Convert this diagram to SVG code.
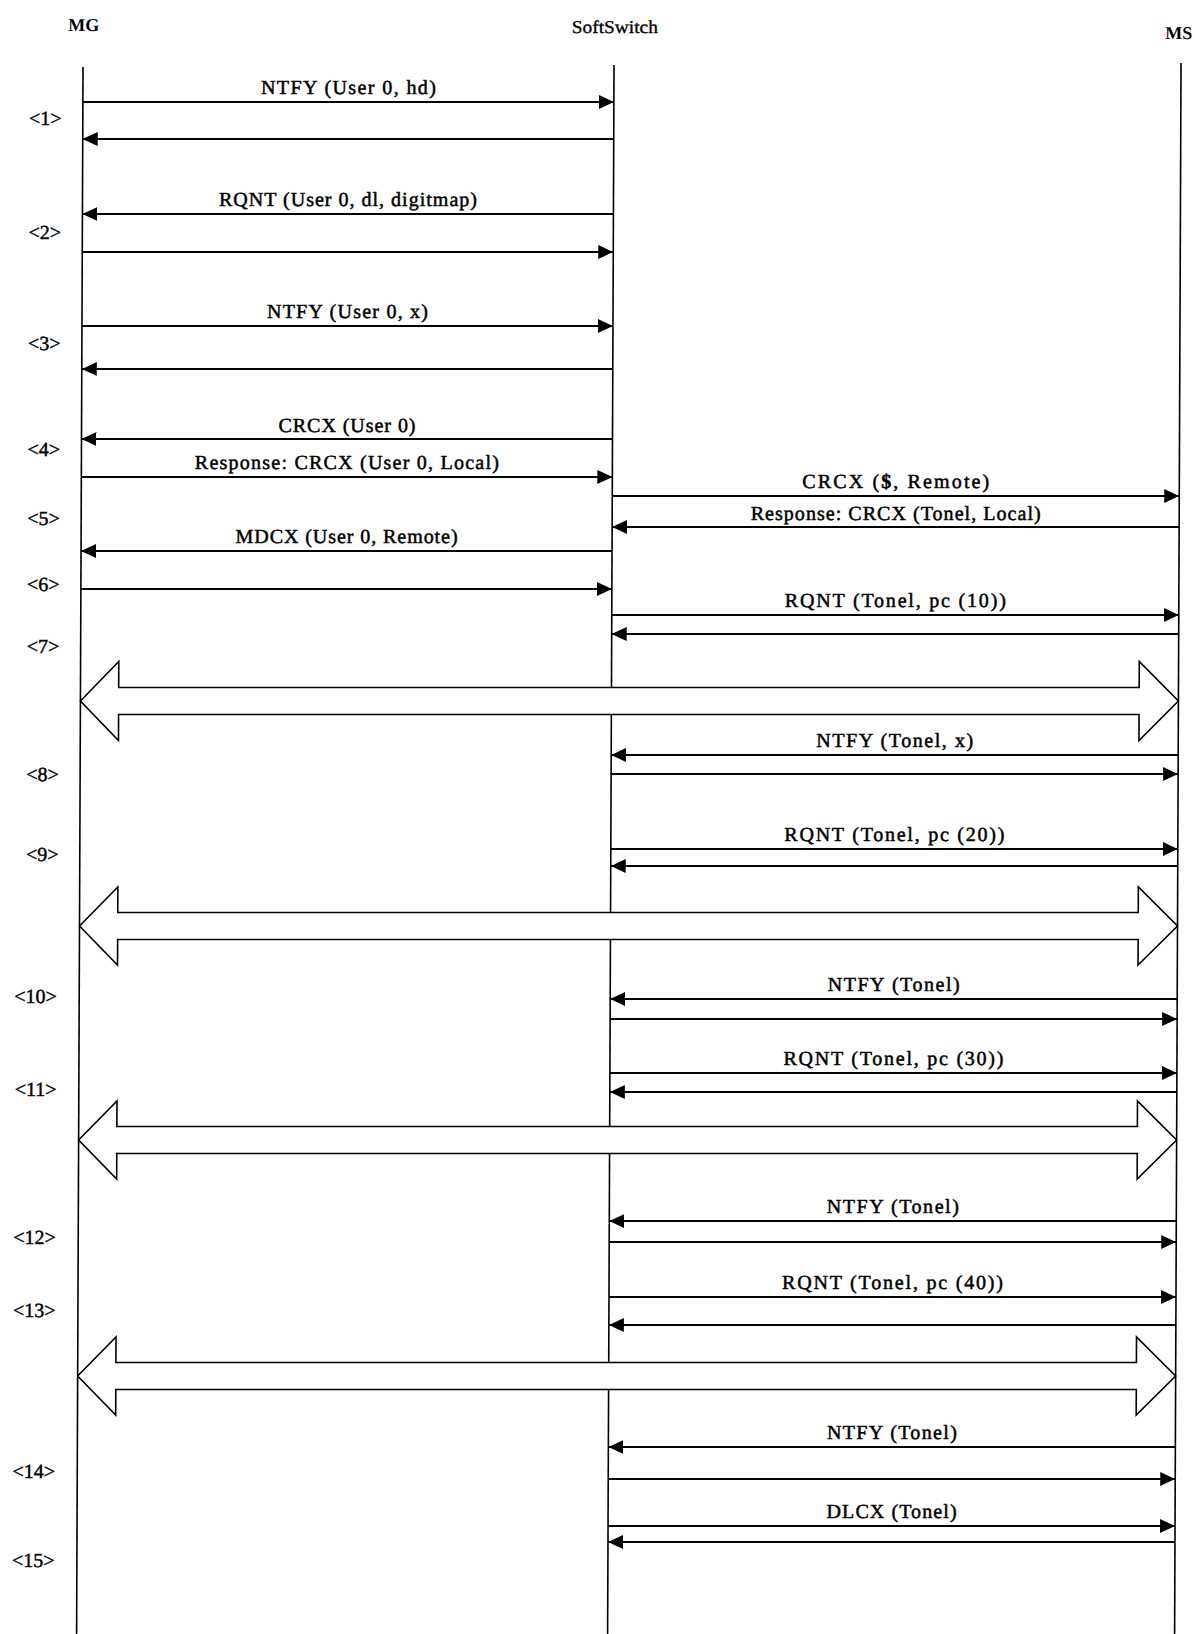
<svg xmlns="http://www.w3.org/2000/svg" width="1195" height="1634" viewBox="0 0 1195 1634">
<style>
  text { font-family: "Liberation Serif", "Times New Roman", serif; fill: #000; }
  .hdr { font-size: 18px; font-weight: bold; text-anchor: middle; }
  .hdr2 { font-size: 18px; text-anchor: middle; stroke: #000; stroke-width: 0.35; }
  .lbl { font-size: 20px; text-anchor: middle; stroke: #000; stroke-width: 0.5; }
  .step { font-size: 20px; text-anchor: end; stroke: #000; stroke-width: 0.45; }
  .life { stroke: #000; stroke-width: 1.6; fill: none; }
  .msg { stroke: #000; stroke-width: 2; fill: none; marker-end: url(#ah); }
  .blk { stroke: #000; stroke-width: 1.6; fill: #fff; stroke-linejoin: miter; }
</style>
<defs>
  <marker id="ah" viewBox="0 0 15 14" refX="15" refY="7" markerWidth="15" markerHeight="14" markerUnits="userSpaceOnUse" orient="auto">
    <path d="M0,0 L15,7 L0,14 Z" fill="#000"/>
  </marker>
</defs>
<rect x="0" y="0" width="1195" height="1634" fill="#fff"/>
<g transform="skewX(-0.235)">
  <g id="mg">
    <text class="hdr" x="84" y="31">MG</text>
    <line class="life" x1="83.3" y1="67" x2="83.3" y2="1640"/>
  </g>
  <g id="softswitch">
    <text class="hdr2" x="615" y="33" textLength="86" lengthAdjust="spacingAndGlyphs">SoftSwitch</text>
    <line class="life" x1="614.3" y1="65" x2="614.3" y2="1640"/>
  </g>
  <g id="ms">
    <text class="hdr" x="1179" y="39">MS</text>
    <line class="life" x1="1181.3" y1="63" x2="1181.3" y2="1640"/>
  </g>

  <g id="steps">
    <text class="step" x="62" y="125">&lt;1&gt;</text>
    <text class="step" x="62" y="239">&lt;2&gt;</text>
    <text class="step" x="62" y="350">&lt;3&gt;</text>
    <text class="step" x="62" y="456">&lt;4&gt;</text>
    <text class="step" x="62" y="525">&lt;5&gt;</text>
    <text class="step" x="62" y="591">&lt;6&gt;</text>
    <text class="step" x="62" y="653">&lt;7&gt;</text>
    <text class="step" x="62" y="781">&lt;8&gt;</text>
    <text class="step" x="62" y="861">&lt;9&gt;</text>
    <text class="step" x="61" y="1003">&lt;10&gt;</text>
    <text class="step" x="61" y="1096">&lt;11&gt;</text>
    <text class="step" x="61" y="1244">&lt;12&gt;</text>
    <text class="step" x="61" y="1317">&lt;13&gt;</text>
    <text class="step" x="61" y="1478">&lt;14&gt;</text>
    <text class="step" x="61" y="1567">&lt;15&gt;</text>
  </g>

  <g id="connectors">
    <line class="msg" x1="83.3" y1="102" x2="614.3" y2="102"/>
    <text class="lbl" x="348.8" y="94" textLength="175" lengthAdjust="spacing">NTFY (User 0, hd)</text>
    <line class="msg" x1="614.3" y1="139" x2="83.3" y2="139"/>

    <line class="msg" x1="614.3" y1="214" x2="83.3" y2="214"/>
    <text class="lbl" x="348.8" y="206" textLength="258" lengthAdjust="spacing">RQNT (User 0, dl, digitmap)</text>
    <line class="msg" x1="83.3" y1="252" x2="614.3" y2="252"/>

    <line class="msg" x1="83.3" y1="326" x2="614.3" y2="326"/>
    <text class="lbl" x="348.8" y="318" textLength="161" lengthAdjust="spacing">NTFY (User 0, x)</text>
    <line class="msg" x1="614.3" y1="369" x2="83.3" y2="369"/>

    <line class="msg" x1="614.3" y1="439" x2="83.3" y2="439"/>
    <text class="lbl" x="348.8" y="432" textLength="137" lengthAdjust="spacing">CRCX (User 0)</text>
    <line class="msg" x1="83.3" y1="477" x2="614.3" y2="477"/>
    <text class="lbl" x="348.8" y="469" textLength="304" lengthAdjust="spacing">Response: CRCX (User 0, Local)</text>

    <line class="msg" x1="614.3" y1="496" x2="1181.3" y2="496"/>
    <text class="lbl" x="897.8" y="488" textLength="187" lengthAdjust="spacing">CRCX (<tspan font-weight="bold">$</tspan>, Remote)</text>
    <line class="msg" x1="1181.3" y1="527" x2="614.3" y2="527"/>
    <text class="lbl" x="897.8" y="520" textLength="290" lengthAdjust="spacing">Response: CRCX (Tonel, Local)</text>

    <line class="msg" x1="614.3" y1="551" x2="83.3" y2="551"/>
    <text class="lbl" x="348.8" y="543" textLength="222" lengthAdjust="spacing">MDCX (User 0, Remote)</text>
    <line class="msg" x1="83.3" y1="589" x2="614.3" y2="589"/>

    <line class="msg" x1="614.3" y1="615" x2="1181.3" y2="615"/>
    <text class="lbl" x="897.8" y="607" textLength="221" lengthAdjust="spacing">RQNT (Tonel, pc (10))</text>
    <line class="msg" x1="1181.3" y1="634" x2="614.3" y2="634"/>

    <polygon class="blk" points="83.3,701 121.5,661.5 121.5,687.5 1142,687.5 1142,661.5 1181.3,701 1142,740.5 1142,714.5 121.5,714.5 121.5,740.5"/>

    <line class="msg" x1="1181.3" y1="755" x2="614.3" y2="755"/>
    <text class="lbl" x="897.8" y="747" textLength="157" lengthAdjust="spacing">NTFY (Tonel, x)</text>
    <line class="msg" x1="614.3" y1="774" x2="1181.3" y2="774"/>

    <line class="msg" x1="614.3" y1="849" x2="1181.3" y2="849"/>
    <text class="lbl" x="897.8" y="841" textLength="220" lengthAdjust="spacing">RQNT (Tonel, pc (20))</text>
    <line class="msg" x1="1181.3" y1="866" x2="614.3" y2="866"/>

    <polygon class="blk" points="83.3,926 121.5,887 121.5,912.5 1142,912.5 1142,887 1181.3,926 1142,965 1142,939.5 121.5,939.5 121.5,965"/>

    <line class="msg" x1="1181.3" y1="999" x2="614.3" y2="999"/>
    <text class="lbl" x="897.8" y="991" textLength="132" lengthAdjust="spacing">NTFY (Tonel)</text>
    <line class="msg" x1="614.3" y1="1019" x2="1181.3" y2="1019"/>

    <line class="msg" x1="614.3" y1="1073" x2="1181.3" y2="1073"/>
    <text class="lbl" x="897.8" y="1065" textLength="220" lengthAdjust="spacing">RQNT (Tonel, pc (30))</text>
    <line class="msg" x1="1181.3" y1="1092" x2="614.3" y2="1092"/>

    <polygon class="blk" points="83.3,1140 121.5,1101 121.5,1126.5 1142,1126.5 1142,1101 1181.3,1140 1142,1179 1142,1153.5 121.5,1153.5 121.5,1179"/>

    <line class="msg" x1="1181.3" y1="1221" x2="614.3" y2="1221"/>
    <text class="lbl" x="897.8" y="1213" textLength="132" lengthAdjust="spacing">NTFY (Tonel)</text>
    <line class="msg" x1="614.3" y1="1242" x2="1181.3" y2="1242"/>

    <line class="msg" x1="614.3" y1="1297" x2="1181.3" y2="1297"/>
    <text class="lbl" x="897.8" y="1289" textLength="221" lengthAdjust="spacing">RQNT (Tonel, pc (40))</text>
    <line class="msg" x1="1181.3" y1="1325" x2="614.3" y2="1325"/>

    <polygon class="blk" points="83.3,1376 121.5,1337 121.5,1362.5 1142,1362.5 1142,1337 1181.3,1376 1142,1415 1142,1389.5 121.5,1389.5 121.5,1415"/>

    <line class="msg" x1="1181.3" y1="1447" x2="614.3" y2="1447"/>
    <text class="lbl" x="897.8" y="1439" textLength="130" lengthAdjust="spacing">NTFY (Tonel)</text>
    <line class="msg" x1="614.3" y1="1479" x2="1181.3" y2="1479"/>

    <line class="msg" x1="614.3" y1="1526" x2="1181.3" y2="1526"/>
    <text class="lbl" x="897.8" y="1518" textLength="130" lengthAdjust="spacing">DLCX (Tonel)</text>
    <line class="msg" x1="1181.3" y1="1542" x2="614.3" y2="1542"/>
  </g>
</g>
</svg>
